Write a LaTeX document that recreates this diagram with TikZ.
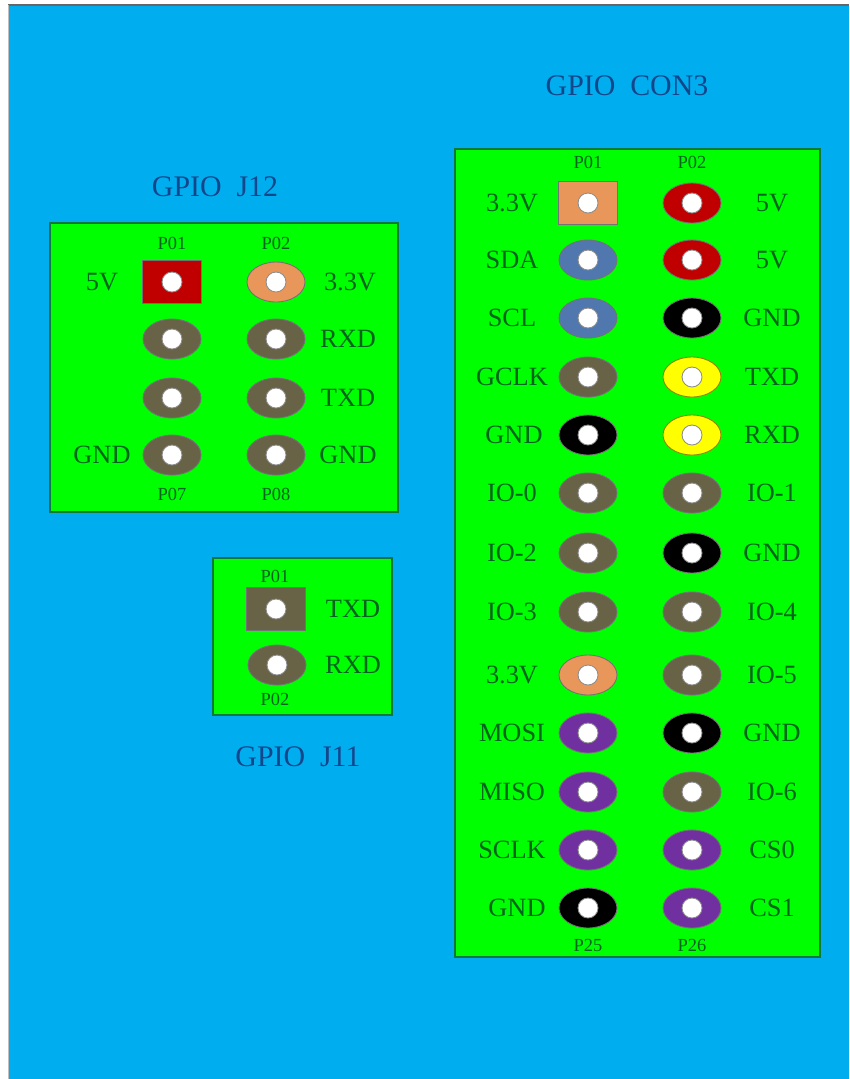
\documentclass[tikz,border=0pt]{standalone}
\usepackage{xcolor}
\usepackage{fontspec}
\setmainfont{Liberation Serif}
\usepackage{tikz}
\usetikzlibrary{shapes.geometric}

\definecolor{bgblue}{RGB}{0,174,239}
\definecolor{pcb}{RGB}{0,255,0}
\definecolor{pcbedge}{RGB}{20,120,60}
\definecolor{pinbrown}{RGB}{104,98,70}
\definecolor{pinred}{RGB}{192,0,0}
\definecolor{pinorange}{RGB}{232,150,90}
\definecolor{pinblue}{RGB}{80,120,175}
\definecolor{pinpurple}{RGB}{112,48,160}
\definecolor{pinyellow}{RGB}{255,255,0}
\definecolor{txtgreen}{RGB}{0,100,30}
\definecolor{txtblue}{RGB}{20,70,140}

\begin{document}
\begin{tikzpicture}[x=0.02cm,y=-0.02cm]
        \tikzstyle{board}=[fill=pcb,draw=pcbedge,line width=1pt]
        \tikzstyle{padround}=[ellipse,minimum width=1.16cm,minimum height=0.8cm,inner sep=0pt,draw=black!55,line width=0.5pt,
            path picture={\draw[black!45,fill=white,line width=0.5pt] (path picture bounding box.center) circle (0.2cm);}]
        \tikzstyle{padsquare}=[rectangle,minimum width=1.18cm,minimum height=0.86cm,inner sep=0pt,draw=black!55,line width=0.5pt,
            path picture={\draw[black!45,fill=white,line width=0.5pt] (path picture bounding box.center) circle (0.2cm);}]
        \tikzstyle{lbl}=[text=txtgreen,font=\fontsize{15}{18}\selectfont,inner sep=0pt]
        \tikzstyle{pno}=[text=txtgreen,font=\fontsize{10.5}{12}\selectfont,inner sep=0pt]
        \tikzstyle{title}=[text=txtblue,font=\fontsize{17}{20}\selectfont,inner sep=0pt]

        \useasboundingbox (0,0) rectangle (849,1079);
        \fill[white] (0,0) rectangle (849,1079);
        \fill[bgblue] (8,5) rectangle (849,1079);
        \draw[black!60,line width=1pt] (8,5) -- (849,5);
        \draw[black!25,line width=0.5pt] (8,5) -- (8,1079);

        % GPIO J12
        \node[title] (t12) at (215,187) {GPIO\ \ J12};
        \draw[board] (50,223) rectangle (398,512);
        \node[pno] (j12n1) at (172,243) {P01};
        \node[pno] (j12n2) at (276,243) {P02};
        \node[padsquare,fill=pinred] (j12a1) at (172,282) {};
        \node[padround,fill=pinorange] (j12b1) at (276,282) {};
        \node[padround,fill=pinbrown] (j12a2) at (172,339) {};
        \node[padround,fill=pinbrown] (j12b2) at (276,339) {};
        \node[padround,fill=pinbrown] (j12a3) at (172,398) {};
        \node[padround,fill=pinbrown] (j12b3) at (276,398) {};
        \node[padround,fill=pinbrown] (j12a4) at (172,455) {};
        \node[padround,fill=pinbrown] (j12b4) at (276,455) {};
        \node[pno] (j12n7) at (172,494) {P07};
        \node[pno] (j12n8) at (276,494) {P08};
        \node[lbl] (j12l1) at (102,282) {5V};
        \node[lbl] (j12r1) at (350,282) {3.3V};
        \node[lbl] (j12r2) at (348,339) {RXD};
        \node[lbl] (j12r3) at (348,398) {TXD};
        \node[lbl] (j12l4) at (102,455) {GND};
        \node[lbl] (j12r4) at (348,455) {GND};

        % GPIO J11
        \draw[board] (213,558) rectangle (392,715);
        \node[pno] (j11n1) at (275,576) {P01};
        \node[padsquare,fill=pinbrown] (j11a1) at (276,609) {};
        \node[padround,fill=pinbrown] (j11a2) at (277,665) {};
        \node[pno] (j11n2) at (275,699) {P02};
        \node[lbl] (j11r1) at (353,609) {TXD};
        \node[lbl] (j11r2) at (353,665) {RXD};
        \node[title] (t11) at (298,757) {GPIO\ \ J11};

        % GPIO CON3
        \node[title] (t3) at (627,86) {GPIO\ \ CON3};
        \draw[board] (455,149) rectangle (820,957);
        \node[pno] (c3n1) at (588,162) {P01};
        \node[pno] (c3n2) at (692,162) {P02};
        \node[padsquare,fill=pinorange] (c3a1) at (588,203) {};
        \node[padround,fill=pinred] (c3b1) at (692,203) {};
        \node[padround,fill=pinblue] (c3a2) at (588,260) {};
        \node[padround,fill=pinred] (c3b2) at (692,260) {};
        \node[padround,fill=pinblue] (c3a3) at (588,318) {};
        \node[padround,fill=black] (c3b3) at (692,318) {};
        \node[padround,fill=pinbrown] (c3a4) at (588,377) {};
        \node[padround,fill=pinyellow,draw=olive] (c3b4) at (692,377) {};
        \node[padround,fill=black] (c3a5) at (588,435) {};
        \node[padround,fill=pinyellow,draw=olive] (c3b5) at (692,435) {};
        \node[padround,fill=pinbrown] (c3a6) at (588,493) {};
        \node[padround,fill=pinbrown] (c3b6) at (692,493) {};
        \node[padround,fill=pinbrown] (c3a7) at (588,553) {};
        \node[padround,fill=black] (c3b7) at (692,553) {};
        \node[padround,fill=pinbrown] (c3a8) at (588,612) {};
        \node[padround,fill=pinbrown] (c3b8) at (692,612) {};
        \node[padround,fill=pinorange] (c3a9) at (588,675) {};
        \node[padround,fill=pinbrown] (c3b9) at (692,675) {};
        \node[padround,fill=pinpurple] (c3a10) at (588,733) {};
        \node[padround,fill=black] (c3b10) at (692,733) {};
        \node[padround,fill=pinpurple] (c3a11) at (588,792) {};
        \node[padround,fill=pinbrown] (c3b11) at (692,792) {};
        \node[padround,fill=pinpurple] (c3a12) at (588,850) {};
        \node[padround,fill=pinpurple] (c3b12) at (692,850) {};
        \node[padround,fill=black] (c3a13) at (588,908) {};
        \node[padround,fill=pinpurple] (c3b13) at (692,908) {};
        \node[pno] (c3n25) at (588,945) {P25};
        \node[pno] (c3n26) at (692,945) {P26};

        \node[lbl] (c3l1) at (512,203) {3.3V};
        \node[lbl] (c3l2) at (512,260) {SDA};
        \node[lbl] (c3l3) at (512,318) {SCL};
        \node[lbl] (c3l4) at (512,377) {GCLK};
        \node[lbl] (c3l5) at (514,435) {GND};
        \node[lbl] (c3l6) at (512,493) {IO-0};
        \node[lbl] (c3l7) at (512,553) {IO-2};
        \node[lbl] (c3l8) at (512,612) {IO-3};
        \node[lbl] (c3l9) at (512,675) {3.3V};
        \node[lbl] (c3l10) at (512,733) {MOSI};
        \node[lbl] (c3l11) at (512,792) {MISO};
        \node[lbl] (c3l12) at (512,850) {SCLK};
        \node[lbl] (c3l13) at (517,908) {GND};

        \node[lbl] (c3r1) at (772,203) {5V};
        \node[lbl] (c3r2) at (772,260) {5V};
        \node[lbl] (c3r3) at (772,318) {GND};
        \node[lbl] (c3r4) at (772,377) {TXD};
        \node[lbl] (c3r5) at (772,435) {RXD};
        \node[lbl] (c3r6) at (772,493) {IO-1};
        \node[lbl] (c3r7) at (772,553) {GND};
        \node[lbl] (c3r8) at (772,612) {IO-4};
        \node[lbl] (c3r9) at (772,675) {IO-5};
        \node[lbl] (c3r10) at (772,733) {GND};
        \node[lbl] (c3r11) at (772,792) {IO-6};
        \node[lbl] (c3r12) at (772,850) {CS0};
        \node[lbl] (c3r13) at (772,908) {CS1};
    \end{tikzpicture}
\end{document}
